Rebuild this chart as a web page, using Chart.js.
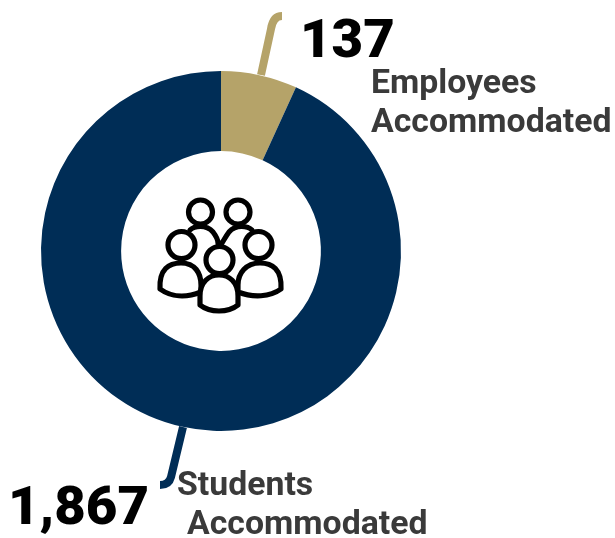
<!DOCTYPE html>
<html><head><meta charset="utf-8">
<script src="https://cdn.jsdelivr.net/npm/chart.js@4"></script>
<style>html,body{margin:0;padding:0;background:#fff;overflow:hidden}canvas{display:block}</style>
</head><body><canvas id="c" width="615" height="538"></canvas>
<script>
const categories = ["Employees Accommodated", "Students Accommodated"];
const values = [137, 1867];
const valueLabels = ["137", "1,867"];
const colors = ["#B5A369", "#002D56"];
const NUM = "900 54.5px Roboto", LAB = "700 33.8px Roboto", INK = "#3a3a3a";

function stroke(ctx, col, w, fn){ctx.save();ctx.strokeStyle=col;ctx.lineWidth=w;ctx.lineCap="butt";ctx.lineJoin="round";ctx.beginPath();fn(ctx);ctx.stroke();ctx.restore();}
const extras = {
  id:"extras",
  afterDraw(chart){
    const ctx = chart.ctx, arcs = chart.getDatasetMeta(0).data;
    const cx = arcs[0].x, cy = arcs[0].y;
    // leaders
    stroke(ctx, colors[0], 8, c=>{c.moveTo(cx+40,cy-176);c.lineTo(cx+50,cy-222);c.quadraticCurveTo(cx+52,cy-235,cx+61,cy-235);});
    stroke(ctx, colors[1], 8, c=>{c.moveTo(cx-38,cy+176);c.lineTo(cx-50,cy+226);c.quadraticCurveTo(cx-52,cy+234,cx-61,cy+234);});
    // text
    ctx.save();ctx.textBaseline="alphabetic";ctx.textAlign="left";
    ctx.fillStyle="#000";ctx.font=NUM;
    ctx.fillText(valueLabels[0],300,57);ctx.fillText(valueLabels[1],8,524);
    ctx.fillStyle=INK;ctx.font=LAB;
    ctx.fillText("Employees",371,93);ctx.fillText("Accommodated",371,132);
    ctx.fillText("Students",177,495);ctx.fillText("Accommodated",187,534);
    ctx.restore();
    // people icon
    ctx.save();ctx.translate(cx,cy);ctx.strokeStyle="#000";ctx.fillStyle="#fff";ctx.lineWidth=5.2;ctx.lineJoin="round";ctx.lineCap="round";
    const head=(x,y,r)=>{ctx.beginPath();ctx.arc(x,y,r,0,Math.PI*2);ctx.fill();ctx.stroke();};
    const p=new Path2D("M-31 -21 C-27 -25 -15 -27 -8 -19 C-5 -15 -3 -11 -3 -8 M31 -21 C27 -25 15 -27 8 -19 C5 -15 3 -11 1 -8");ctx.stroke(p);
    head(-20.5,-39,12);head(17,-39,12);
    const body=d=>{const q=new Path2D(d);ctx.fill(q);ctx.stroke(q);};
    body("M-61 38 C-62 18 -52 12 -40 12 C-26 12 -20 22 -20 34 L-20 41 C-35 47 -50 46 -61 38 Z");
    body("M60 38 C61 18 51 12 39 12 C25 12 17 22 17 34 L17 41 C32 47 49 46 60 38 Z");
    head(-39.5,-6,13.5);head(37.5,-6,13.5);
    body("M-21 54 L-21 45 C-21 31 -12 24 -2 24 C8 24 17 31 17 45 L17 54 C7 62 -11 62 -21 54 Z");
    head(-1.5,9,13.5);
    ctx.restore();
  }
};
new Chart(document.getElementById("c"),{
  type:"doughnut",
  data:{labels:categories,datasets:[{data:values,backgroundColor:colors,borderWidth:0}]},
  options:{responsive:false,animation:false,cutout:"55.5%",
    layout:{padding:{left:41,right:214,top:71,bottom:107}},
    plugins:{legend:{display:false},tooltip:{enabled:false}}},
  plugins:[extras]
});
</script>
</body></html>
